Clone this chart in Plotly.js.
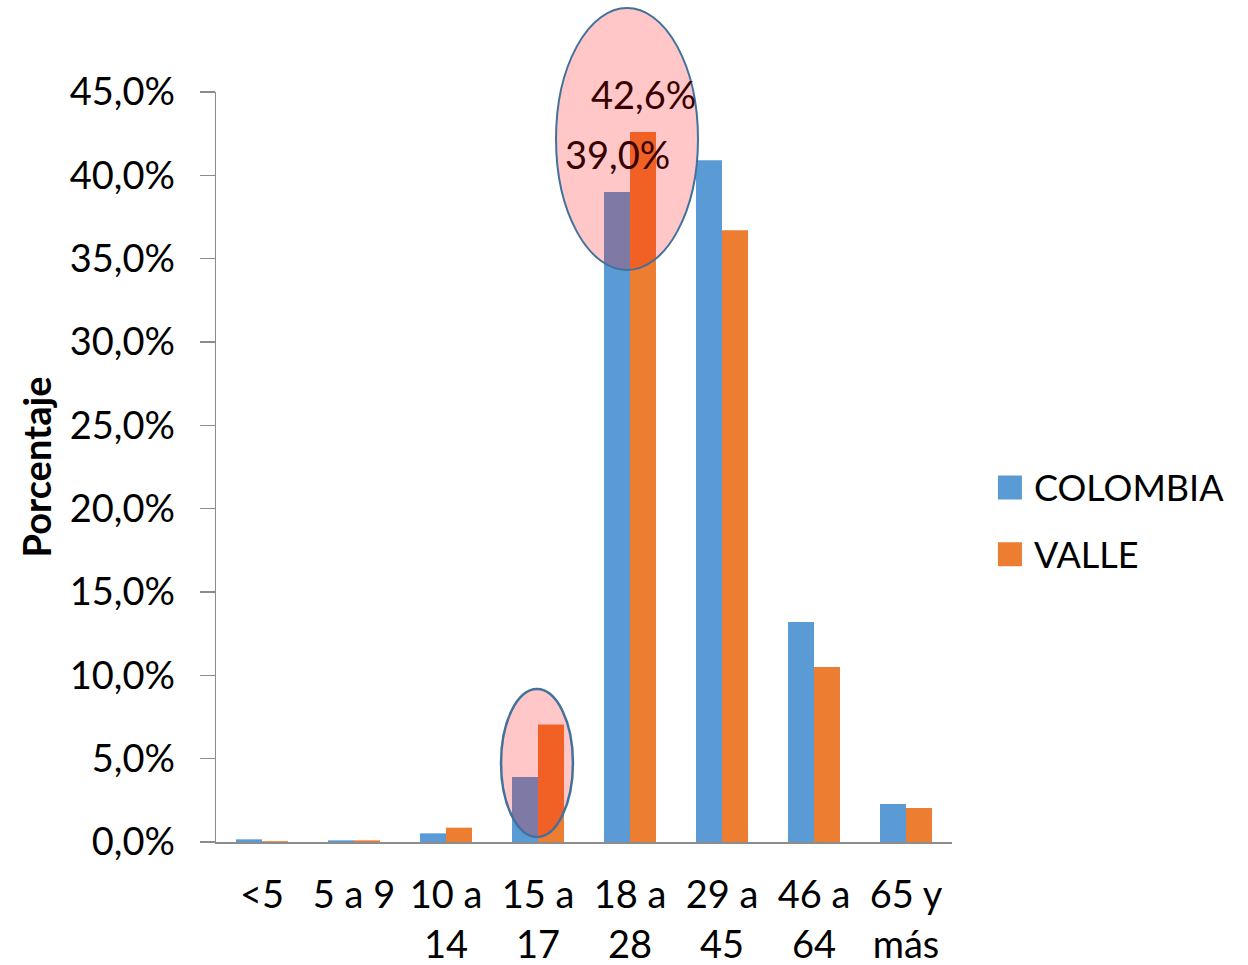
<!DOCTYPE html>
<html>
<head>
<meta charset="utf-8">
<script src="https://cdn.plot.ly/plotly-3.0.1.min.js"></script>
<style>html,body{margin:0;padding:0;background:#fff;}#chart{width:1248px;height:965px;}</style>
</head>
<body>
<div id="chart"></div>
<script>
const categories = ['<5', '5 a 9', '10 a<br>14', '15 a<br>17', '18 a<br>28', '29 a<br>45', '46 a<br>64', '65 y<br>más'];
const colombia = [0.16, 0.1, 0.52, 3.9, 39.0, 40.9, 13.2, 2.28];
const valle = [0.05, 0.1, 0.86, 7.05, 42.6, 36.7, 10.5, 2.04];
const seriesNames = ['COLOMBIA', 'VALLE'];
const labeledIndex = 4;

const FONT = 'Lato, "Open Sans", sans-serif';
const FS = 38;
const fmt = v => v.toFixed(1).replace('.', ',') + '%';

const traces = [
  {type: 'bar', name: seriesNames[0], x: categories, y: colombia, marker: {color: '#5B9BD5'}, legendgroup: 'a'},
  {type: 'bar', name: seriesNames[1], x: categories, y: valle, marker: {color: '#ED7D31'}, legendgroup: 'b'}
];

const yMax = 45;
const layout = {
  width: 1248, height: 965,
  margin: {l: 216, r: 296, t: 92, b: 123, pad: 0},
  paper_bgcolor: '#fff', plot_bgcolor: '#fff',
  separators: ',.',
  font: {family: FONT, size: FS, color: '#000'},
  barmode: 'group', bargap: 0.435, bargroupgap: 0,
  showlegend: true,
  legend: {x: 1.057, xanchor: 'left', y: 0.428, yanchor: 'middle', traceorder: 'grouped', tracegroupgap: 17,
           font: {family: FONT, size: 36, color: '#000'}, itemwidth: 30, bgcolor: 'rgba(0,0,0,0)'},
  xaxis: {type: 'category', showline: true, linecolor: '#8c8c8c', linewidth: 1.5, ticks: '', showgrid: false,
          tickfont: {family: FONT, size: FS}, zeroline: false, fixedrange: true, ticklabelstandoff: 19},
  yaxis: {range: [0, yMax], dtick: 5, tickformat: '.1f', ticksuffix: '%', showline: true, linecolor: '#8c8c8c', linewidth: 1.5,
          ticks: 'outside', ticklen: 15, tickcolor: '#8c8c8c', tickwidth: 1.5, showgrid: false, zeroline: false,
          tickfont: {family: FONT, size: FS}, ticklabelstandoff: 17,
          title: {text: '<b>Porcentaje</b>', font: {family: FONT, size: 38}, standoff: 6}},
  shapes: [
    {type: 'line', xref: 'paper', yref: 'y', x0: -13/736, x1: 0, y0: 0, y1: 0, line: {color: '#8c8c8c', width: 1.5}},
    {type: 'circle', xref: 'x', yref: 'paper', x0: 3.196, x1: 4.739, y0: 34.32/yMax, y1: 50.04/yMax, layer: 'above',
     fillcolor: 'rgba(255,0,0,0.22)', line: {color: '#41719C', width: 2}},
    {type: 'circle', xref: 'x', yref: 'paper', x0: 2.598, x1: 3.38, y0: 0.3/yMax, y1: 9.18/yMax, layer: 'above',
     fillcolor: 'rgba(255,0,0,0.22)', line: {color: '#41719C', width: 2.5}}
  ],
  annotations: [
    {x: categories[labeledIndex], y: colombia[labeledIndex], xref: 'x', yref: 'y', text: fmt(colombia[labeledIndex]),
     showarrow: false, xshift: -13, yshift: 38, yanchor: 'middle', font: {family: FONT, size: FS, color: '#380000'}},
    {x: categories[labeledIndex], y: valle[labeledIndex], xref: 'x', yref: 'y', text: fmt(valle[labeledIndex]),
     showarrow: false, xshift: 13, yshift: 38, yanchor: 'middle', font: {family: FONT, size: FS, color: '#380000'}}
  ]
};

Plotly.newPlot('chart', traces, layout, {staticPlot: true, displayModeBar: false}).then(gd => {
  gd.querySelectorAll('.legendpoints path').forEach(p => {
    const t = p.getAttribute('transform') || '';
    p.setAttribute('transform', 'translate(-4,0) ' + t + ' scale(2)');
  });
});
</script>
</body>
</html>
